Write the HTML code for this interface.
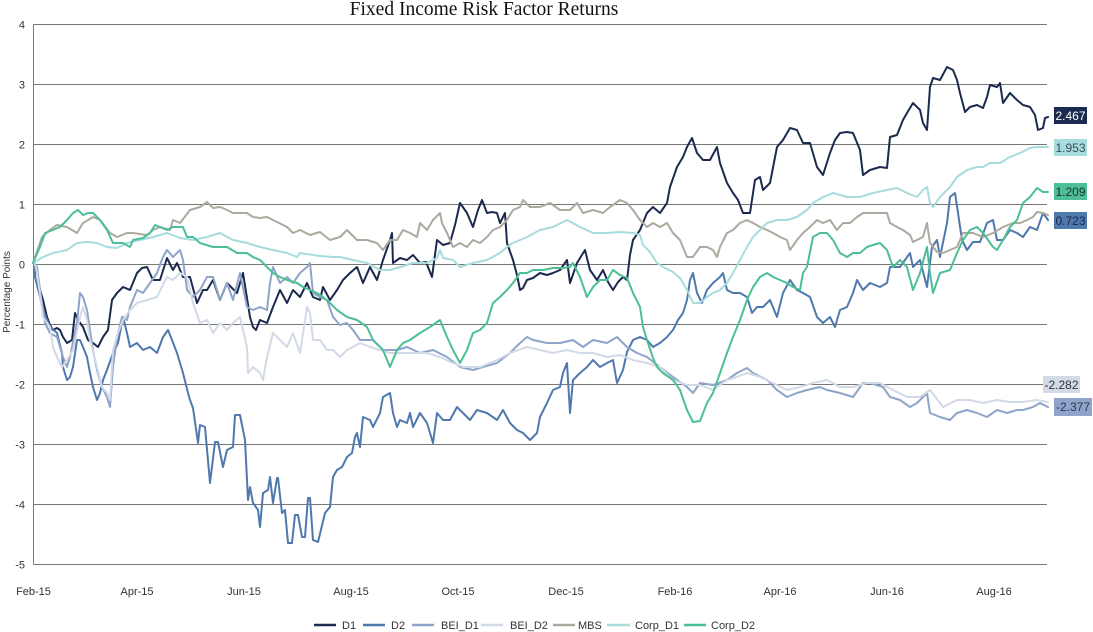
<!DOCTYPE html>
<html>
<head>
<meta charset="utf-8">
<style>
html,body{margin:0;padding:0;background:#fff;}
body{width:1093px;height:632px;overflow:hidden;}
svg{display:block;}
.tk{font-family:"Liberation Sans",sans-serif;font-size:11px;fill:#333;}
.lg{font-family:"Liberation Sans",sans-serif;font-size:11px;fill:#333;}
.ser{fill:none;stroke-width:2;stroke-linejoin:round;stroke-linecap:round;}
</style>
</head>
<body>
<svg width="1093" height="632" viewBox="0 0 1093 632" xmlns="http://www.w3.org/2000/svg">
<rect width="1093" height="632" fill="#fff"/>
<text x="484" y="15" text-anchor="middle" font-family="Liberation Serif, serif" font-size="19.5" fill="#111">Fixed Income Risk Factor Returns</text>

<!-- grid -->
<g stroke="#777" stroke-width="1">
<line x1="33.5" y1="24.5" x2="1047" y2="24.5"/>
<line x1="33.5" y1="84.5" x2="1047" y2="84.5"/>
<line x1="33.5" y1="144.5" x2="1047" y2="144.5"/>
<line x1="33.5" y1="204.5" x2="1047" y2="204.5"/>
<line x1="33.5" y1="264.5" x2="1047" y2="264.5"/>
<line x1="33.5" y1="324.5" x2="1047" y2="324.5"/>
<line x1="33.5" y1="384.5" x2="1047" y2="384.5"/>
<line x1="33.5" y1="444.5" x2="1047" y2="444.5"/>
<line x1="33.5" y1="504.5" x2="1047" y2="504.5"/>
<line x1="33.5" y1="564.5" x2="1047" y2="564.5"/>
<line x1="33.5" y1="24.5" x2="33.5" y2="564.5"/>
</g>

<!-- y ticks -->
<g class="tk" text-anchor="end">
<text x="25" y="28.5">4</text>
<text x="25" y="88.5">3</text>
<text x="25" y="148.5">2</text>
<text x="25" y="208.5">1</text>
<text x="25" y="268.5">0</text>
<text x="25" y="328.5">-1</text>
<text x="25" y="388.5">-2</text>
<text x="25" y="448.5">-3</text>
<text x="25" y="508.5">-4</text>
<text x="25" y="568.5">-5</text>
</g>
<text transform="translate(10,292) rotate(-90)" text-anchor="middle" font-family="Liberation Sans, sans-serif" font-size="10" fill="#333">Percentage Points</text>

<!-- x ticks -->
<g class="tk" text-anchor="middle">
<text x="33.5" y="595">Feb-15</text>
<text x="137" y="595">Apr-15</text>
<text x="244" y="595">Jun-15</text>
<text x="351" y="595">Aug-15</text>
<text x="458" y="595">Oct-15</text>
<text x="566" y="595">Dec-15</text>
<text x="675" y="595">Feb-16</text>
<text x="780" y="595">Apr-16</text>
<text x="887" y="595">Jun-16</text>
<text x="994" y="595">Aug-16</text>
</g>

<!-- series -->
<polyline class="ser" stroke="#1b2a4e" points="35,264 37,273 40,290 43,300 47,317 50,325 53,330 57,328 60,330 63,337 67,343 72,340 75,313 78,320 83,327 88,340 93,343 98,347 103,337 108,330 112,300 117,293 123,287 130,290 137,273 142,268 147,267 153,280 160,280 167,258 173,270 177,263 183,277 190,277 197,303 203,290 207,290 213,280 220,300 227,283 237,293 243,273 250,317 253,327 256,330 260,320 267,323 273,307 280,290 287,303 293,290 300,297 307,283 313,297 320,300 323,287 330,300 337,290 343,280 350,273 357,267 363,283 370,267 377,280 383,260 390,240 392,233 393,263 400,258 407,260 413,255 420,263 426,262 432,277 437,240 443,245 450,243 455,225 460,203 467,213 473,227 478,210 482,200 487,213 492,212 497,213 500,223 505,213 507,243 513,260 517,275 520,290 523,288 527,280 533,278 540,273 547,275 553,273 560,270 567,260 570,283 577,263 585,250 590,270 597,280 603,270 608,282 613,290 618,282 623,277 627,280 630,255 633,240 640,230 647,213 653,207 660,213 667,203 670,187 677,167 683,157 687,147 692,138 697,153 703,160 710,160 717,147 720,163 727,183 733,193 738,200 743,213 750,213 755,180 760,177 763,190 770,183 777,147 783,140 790,128 797,130 803,143 810,143 817,167 823,175 830,153 835,140 840,133 847,132 853,133 860,150 863,175 870,170 880,167 887,168 890,137 897,135 903,120 907,113 913,103 920,110 923,123 927,130 930,87 933,78 940,80 947,67 953,70 957,80 960,93 965,112 970,107 977,105 983,108 987,97 990,85 997,87 1000,83 1003,103 1010,93 1017,100 1023,105 1030,107 1035,115 1038,130 1043,128 1045,118 1048,117"/>

<polyline class="ser" stroke="#4f79ad" points="35,264 35,277 40,297 43,310 50,327 57,333 62,353 63,367 67,380 70,377 73,367 77,340 80,340 83,347 87,357 90,373 93,387 97,400 100,393 103,380 107,370 113,353 118,343 123,317 127,333 130,347 137,343 143,350 150,347 157,353 163,337 168,330 172,340 177,353 183,373 188,393 190,400 193,408 198,443 200,425 205,427 210,483 215,442 218,442 223,467 227,450 233,447 235,415 240,415 245,440 248,500 250,487 253,503 258,510 260,527 263,493 268,490 270,477 273,503 277,478 278,478 282,513 285,510 288,543 292,543 295,515 298,515 302,537 305,537 308,498 310,498 313,540 318,542 325,513 330,507 333,477 337,470 342,467 347,457 352,453 355,437 357,433 360,447 363,417 370,420 373,427 380,413 383,397 390,393 393,413 397,427 400,420 407,423 410,413 413,427 420,413 427,423 433,443 437,413 443,420 450,420 457,407 463,413 470,420 477,410 487,413 497,420 503,410 510,423 517,430 523,433 530,440 537,433 540,417 547,403 553,390 560,387 563,373 567,363 570,413 573,380 580,373 587,367 593,360 600,367 607,363 613,360 617,383 623,370 627,352 633,340 640,337 647,340 653,347 660,343 667,337 673,330 678,320 683,313 687,300 690,280 693,273 697,293 702,303 707,290 713,283 720,277 723,273 727,290 733,293 740,293 747,297 752,313 757,307 763,307 770,300 777,317 783,293 790,280 797,290 803,293 810,297 817,317 823,323 830,317 835,327 840,310 847,307 853,293 857,280 863,290 870,283 880,287 887,283 890,267 900,267 910,253 913,267 920,260 927,287 932,247 937,240 940,257 947,223 950,197 955,193 958,213 962,240 967,250 973,242 980,242 987,223 993,220 997,240 1003,240 1010,230 1017,233 1023,237 1030,227 1037,230 1043,213 1048,220"/>

<polyline class="ser" stroke="#8fa4c8" points="35,264 37,267 40,290 45,323 50,333 57,337 63,357 67,367 70,357 77,323 80,293 83,297 87,310 90,330 93,350 97,370 102,387 107,397 110,407 113,367 117,337 122,317 127,320 130,307 137,290 143,293 150,283 157,273 163,257 167,250 173,257 180,250 183,260 187,290 193,297 200,290 207,277 213,277 220,300 227,283 233,300 240,273 247,307 253,310 260,307 267,310 270,283 273,267 280,283 287,277 293,283 300,273 307,267 310,263 313,293 320,297 327,300 333,317 340,325 347,323 353,330 360,340 367,340 373,340 383,350 397,350 407,347 420,353 433,350 447,357 460,367 473,370 483,367 497,363 510,353 520,343 527,337 533,340 547,343 560,343 573,340 583,347 593,340 607,343 617,337 627,347 637,353 647,357 660,367 673,377 687,387 693,393 700,383 713,385 727,380 737,373 747,368 753,373 767,380 777,390 787,397 797,393 807,390 820,387 827,390 840,393 853,397 863,383 870,383 883,387 890,397 900,400 910,407 917,403 927,393 930,413 940,417 950,420 957,413 967,410 977,413 987,417 997,410 1007,413 1017,410 1023,410 1033,407 1040,403 1048,407"/>

<polyline class="ser" stroke="#d3dae7" points="35,264 37,273 43,317 50,327 53,347 57,357 62,367 67,360 73,350 80,317 83,307 87,320 90,340 97,367 102,387 107,393 110,400 113,350 118,333 123,320 130,310 137,303 147,300 157,297 167,277 173,280 180,273 187,277 193,303 200,323 207,320 213,333 220,323 227,330 233,323 240,317 247,347 248,373 253,367 260,373 263,380 267,357 273,333 280,340 287,347 293,333 300,353 307,307 310,313 313,340 320,340 327,350 333,350 340,357 347,350 353,347 360,343 370,347 380,350 390,353 407,353 427,353 440,357 453,363 463,367 480,367 497,360 510,353 527,347 540,350 553,353 567,350 580,353 593,353 607,357 620,355 633,360 647,363 660,367 673,380 687,385 700,385 713,390 727,380 737,377 747,373 760,377 773,383 787,390 800,387 813,383 827,380 840,387 853,387 867,383 880,383 893,390 907,397 920,397 930,390 943,407 957,400 970,400 983,403 997,400 1010,402 1023,402 1037,400 1048,402"/>

<polyline class="ser" stroke="#ada99f" points="33,263 42,237 50,230 57,225 67,227 77,233 83,223 93,217 100,220 110,233 117,237 127,233 133,233 147,235 153,230 160,227 170,230 173,220 180,223 190,210 200,207 207,202 213,208 220,207 227,210 233,213 247,213 253,217 260,218 267,217 277,222 287,227 293,233 300,230 310,235 320,232 330,240 340,237 347,230 357,240 367,240 377,243 383,250 390,240 397,240 403,230 410,233 417,237 420,223 427,230 433,220 440,213 442,223 447,233 453,247 460,243 467,247 473,240 480,243 487,237 493,230 500,227 507,220 513,210 520,207 523,200 530,207 540,207 550,203 560,210 570,210 577,203 583,213 593,210 603,213 610,207 620,200 627,203 633,210 640,220 647,227 653,223 660,227 667,223 673,233 680,240 687,257 693,257 700,247 707,247 713,250 717,257 720,247 727,233 733,230 740,223 747,220 753,223 760,227 767,230 773,233 780,237 787,240 790,250 797,240 803,233 810,227 817,220 823,223 830,220 837,230 843,223 850,223 857,217 863,213 870,213 877,213 887,213 890,223 897,227 903,230 910,235 913,242 923,237 927,223 930,243 937,252 943,253 950,250 957,247 963,233 973,233 983,237 993,233 1003,227 1013,223 1020,223 1027,220 1033,217 1037,212 1043,213 1048,215"/>

<polyline class="ser" stroke="#a7dcdd" points="33,263 43,257 53,253 67,250 77,243 87,242 97,243 107,247 117,248 127,243 140,240 153,237 167,233 180,238 193,240 207,237 220,233 233,240 247,243 260,247 273,250 287,253 297,257 300,253 320,256 333,257 340,257 353,260 367,263 380,270 390,270 400,267 413,263 427,263 437,258 440,250 443,258 453,260 460,267 473,263 487,260 500,253 507,247 513,243 527,237 540,230 553,227 567,220 580,227 593,233 607,233 620,232 633,233 640,235 643,245 650,252 657,263 663,267 673,272 680,278 687,290 693,303 700,303 707,297 713,293 720,290 727,283 733,273 740,260 747,247 753,237 760,230 767,223 777,220 787,220 797,217 807,210 813,203 823,197 833,193 847,197 860,197 873,193 887,190 897,188 907,193 917,197 923,190 927,187 930,203 933,207 940,197 950,187 957,177 967,170 977,167 983,167 990,163 1000,163 1010,157 1020,153 1030,148 1037,147 1043,147 1048,147"/>

<polyline class="ser" stroke="#4cbf95" points="33,263 40,247 45,233 53,230 60,227 67,220 73,213 78,210 83,215 88,213 93,213 100,220 107,230 113,243 123,243 130,247 133,240 143,238 150,233 155,225 160,227 167,230 173,227 183,227 187,237 193,237 200,243 213,247 227,247 237,253 247,253 253,257 260,260 267,267 273,273 280,277 287,280 297,283 303,287 310,290 317,293 323,297 330,303 337,310 347,317 357,320 367,327 373,340 383,350 390,367 397,350 403,343 410,340 420,333 430,327 440,320 447,337 453,350 460,363 467,350 473,333 480,330 487,323 493,303 500,297 507,290 513,283 520,273 527,273 533,270 543,270 553,268 563,268 570,267 573,263 580,277 587,297 593,287 600,280 607,280 613,270 620,275 627,278 633,293 640,307 643,327 647,340 653,358 657,367 663,373 673,380 680,390 687,410 693,422 700,421 707,403 713,393 720,373 727,353 733,337 740,320 747,300 753,287 760,277 767,273 773,277 780,280 787,283 793,287 800,290 803,273 807,267 813,237 820,233 827,233 833,240 840,253 847,257 853,253 860,253 867,247 873,245 880,243 887,250 893,267 900,260 907,267 913,290 920,273 927,247 930,273 933,293 940,273 950,270 957,253 963,240 970,230 977,227 983,233 993,247 997,250 1003,240 1010,227 1017,220 1023,203 1030,197 1037,188 1043,192 1048,192"/>

<!-- end labels -->
<g font-family="Liberation Sans, sans-serif" font-size="12">
<rect x="1054" y="107" width="33" height="17" fill="#1b2a4e"/>
<text x="1070.5" y="120" text-anchor="middle" fill="#ffffff">2.467</text>
<rect x="1054" y="139" width="33" height="17" fill="#a7dcdd"/>
<text x="1070.5" y="152" text-anchor="middle" fill="#3a4a5e">1.953</text>
<rect x="1054" y="183" width="33" height="17" fill="#4cbf95"/>
<text x="1070.5" y="196" text-anchor="middle" fill="#1e2e36">1.209</text>
<rect x="1054" y="212" width="33" height="17" fill="#4f79ad"/>
<text x="1070.5" y="225" text-anchor="middle" fill="#1b2a4e">0.723</text>
<rect x="1043" y="376" width="37" height="17" fill="#d3dae7"/>
<text x="1061.5" y="389" text-anchor="middle" fill="#333">-2.282</text>
<rect x="1054" y="398" width="38" height="18" fill="#8fa4c8"/>
<text x="1073" y="411" text-anchor="middle" fill="#2a3a55">-2.377</text>
</g>

<!-- legend -->
<g stroke-width="2.5">
<line x1="314" y1="625" x2="336" y2="625" stroke="#1b2a4e"/>
<line x1="363" y1="625" x2="385" y2="625" stroke="#4f79ad"/>
<line x1="412" y1="625" x2="434" y2="625" stroke="#8fa4c8"/>
<line x1="481" y1="625" x2="503" y2="625" stroke="#d3dae7"/>
<line x1="553" y1="625" x2="575" y2="625" stroke="#ada99f"/>
<line x1="607" y1="625" x2="630" y2="625" stroke="#a7dcdd"/>
<line x1="684" y1="625" x2="706" y2="625" stroke="#4cbf95"/>
</g>
<g class="lg">
<text x="342" y="629">D1</text>
<text x="391" y="629">D2</text>
<text x="441" y="629">BEI_D1</text>
<text x="510" y="629">BEI_D2</text>
<text x="578" y="629">MBS</text>
<text x="635" y="629">Corp_D1</text>
<text x="711" y="629">Corp_D2</text>
</g>
</svg>
</body>
</html>
